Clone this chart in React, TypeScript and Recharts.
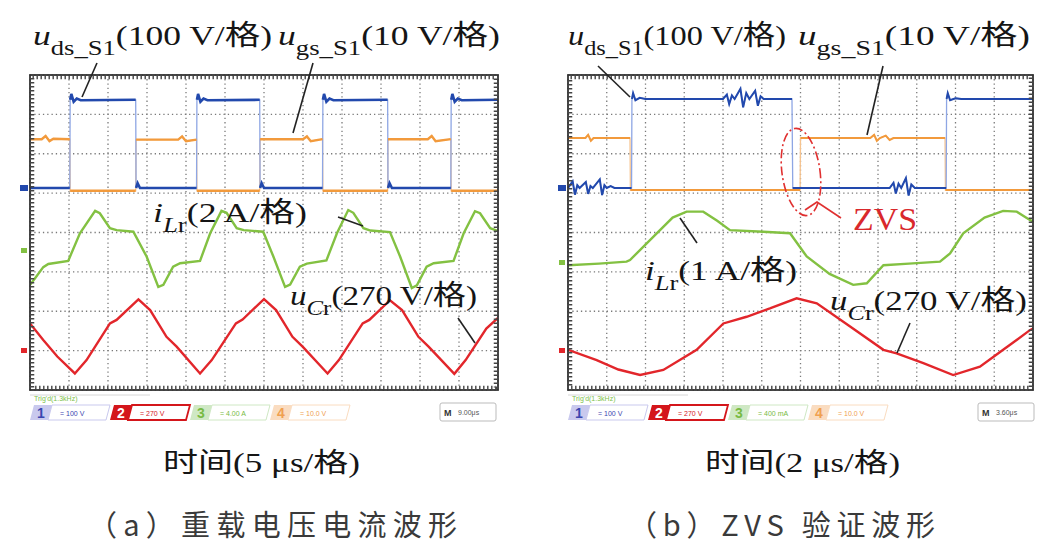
import { LineChart, Line, XAxis, YAxis, ReferenceLine } from 'recharts';

type Pt = [number, number];

// scope screen: 12 x 8 divisions, 10 units per division
const X_TICKS = [0, 10, 20, 30, 40, 50, 60, 70, 80, 90, 100, 110, 120];
const Y_TICKS = [0, 10, 20, 30, 40, 50, 60, 70, 80];

// (a) heavy load, 5 us/div
const leftDs: Pt[] = [
  [0, 51.3], [10.2, 51.3], [10.3, 73.7], [10.6, 75.2], [11.2, 73.2], [12, 74], [13, 73.6], [27.1, 73.7],
  [27.2, 51.3], [27.6, 52.5], [28.2, 51.3], [42.7, 51.3], [42.8, 73.7], [43.1, 75.2], [43.7, 73.2], [44.5, 74],
  [45.5, 73.6], [58.9, 73.7], [59.0, 51.3], [59.4, 52.5], [60, 51.3], [75.0, 51.3], [75.1, 73.7], [75.4, 75.2],
  [76, 73.2], [76.8, 74], [77.8, 73.6], [91.7, 73.7], [91.8, 51.3], [92.2, 52.5], [92.8, 51.3], [107.9, 51.3],
  [108.0, 73.7], [108.3, 75.2], [108.9, 73.2], [109.7, 74], [110.7, 73.6], [120, 73.7],
];
const leftGs: Pt[] = [
  [0, 63.7], [3, 63.7], [4, 64.5], [5, 63.2], [6, 63.8], [10.2, 63.7], [10.3, 50.6], [27.1, 50.6],
  [27.2, 63.6], [38, 63.6], [39, 64.4], [40, 63.2], [42.7, 63.6], [42.8, 50.6], [58.9, 50.6], [59.0, 63.7],
  [70, 63.7], [71, 64.4], [72, 63.2], [75.0, 63.7], [75.1, 50.6], [91.7, 50.6], [91.8, 63.7], [102, 63.7],
  [103, 64.5], [104, 63.2], [107.9, 63.7], [108.0, 50.6], [120, 50.6],
];
const leftIlr: Pt[] = [
  [0, 26.7], [1.3, 28.4], [3.4, 31.2], [4.7, 32.0], [9.8, 32.8], [12.8, 39.8], [16.7, 45.5], [17.9, 44.9],
  [20.5, 41.1], [22.2, 40.6], [26.5, 40.2], [29.9, 33.9], [32.9, 26.2], [34.2, 26.7], [36.7, 31.3], [38.5, 32.2],
  [43.6, 32.8], [46.2, 39.8], [49.1, 45.5], [50.4, 45.0], [53.0, 41.1], [54.8, 40.6], [59.8, 40.2], [62.4, 33.9],
  [65.4, 26.2], [66.7, 26.8], [69.2, 31.3], [71.0, 32.1], [76.0, 32.9], [78.7, 39.8], [81.6, 45.7], [82.9, 45.0],
  [85.5, 41.1], [87.3, 40.5], [92.3, 40.1], [94.9, 33.9], [97.9, 25.9], [99.2, 26.6], [101.7, 31.3], [103.5, 32.2],
  [108.6, 32.8], [111.2, 39.8], [114.1, 45.4], [115.4, 44.9], [118.0, 41.1], [120, 40.4],
];
const leftUcr: Pt[] = [
  [0, 16.9], [3.4, 12.7], [7, 8.5], [11.5, 4.2], [14.5, 7.6], [20.5, 16.9], [22.2, 17.8], [27.8, 23.0],
  [30.8, 20.3], [35.0, 13.5], [37.6, 11.0], [43.6, 4.2], [46.6, 7.6], [52.8, 16.9], [54.5, 17.9], [60.0, 23.1],
  [63.1, 20.3], [67.3, 13.5], [69.9, 11.0], [76.3, 4.2], [79.2, 7.6], [85.3, 16.9], [87.0, 17.8], [92.3, 22.8],
  [95.4, 20.3], [99.6, 13.5], [102.2, 11.0], [108.8, 4.1], [111.7, 7.6], [117.0, 15.6], [120, 18.3],
];

// (b) ZVS check, 2 us/div
const rightDs: Pt[] = [
  [0, 51.3], [1.2, 53], [1.8, 49.6], [2.4, 52], [3, 51.3], [4.6, 52.8], [5.2, 49.8], [5.8, 51.8], [6.4, 51.3],
  [8.2, 53.5], [8.8, 49.5], [9.4, 52], [10, 51.3], [11, 51.8], [12, 51.3], [16.4, 51.3], [16.5, 73.9],
  [16.8, 75.4], [17.4, 73.6], [18.5, 74.2], [20, 73.9], [40, 73.9], [41, 75], [41.6, 72.6], [42.3, 74.8],
  [43, 73.9], [44.5, 76.5], [45.2, 71.8], [46, 75.4], [46.8, 73.9], [48.3, 76], [49, 72.2], [49.7, 74.6],
  [50.5, 73.9], [57.8, 73.9], [58.0, 51.3], [83, 51.3], [84, 52.6], [84.6, 49.9], [85.3, 52.4], [86, 51.3],
  [87.2, 53.8], [87.9, 49.4], [88.6, 52.2], [89.5, 51.3], [97.6, 51.3], [97.7, 73.9], [98, 75.4], [98.6, 73.6],
  [100, 74.1], [101.5, 73.9], [120, 73.9],
];
const rightGs: Pt[] = [
  [0, 64], [4.5, 64], [5.2, 64.8], [5.9, 63.3], [6.6, 64], [16.0, 64], [16.1, 50.8], [59.9, 50.8],
  [60.0, 64], [78, 64], [79, 64.8], [79.7, 63.3], [80.5, 64], [82, 64.6], [83, 63.5], [84, 64],
  [97.3, 64], [97.4, 50.8], [120, 50.8],
];
const rightIlr: Pt[] = [
  [0, 31.7], [8, 32.1], [15.1, 32.6], [16.0, 33.0], [22.9, 39.8], [27, 43.8], [30.6, 45.3], [34.9, 45.3],
  [38.5, 43], [41.8, 40.6], [50.4, 40.2], [57.3, 39.8], [61.6, 33.9], [67.5, 29.5], [73.6, 26.7], [77.1, 27.1],
  [81.4, 31.7], [88, 32.1], [96.0, 32.6], [98.6, 34.7], [102.0, 39.8], [107.5, 43.8], [112.3, 45.5],
  [115.8, 45.3], [119.2, 43.2], [120, 42.8],
];
const rightUcr: Pt[] = [
  [0, 10.2], [7.4, 7.6], [13, 5.2], [18.6, 3.8], [24.6, 5.1], [33.2, 10.2], [40.1, 16.9], [46.1, 18.6],
  [52.1, 20.7], [59.0, 23.3], [64.2, 22.0], [72.8, 16.1], [81.4, 10.2], [84.8, 9.3], [91.7, 6.8], [99.4, 3.8],
  [106.3, 5.9], [112.3, 10.2], [119.2, 15.2], [120, 15.6],
];

const BLUE = '#2249ad';
const BLUE_EDGE = '#8ea6e4';
const ORANGE = '#f29a3c';
const ORANGE_EDGE = '#f6c38e';
const GREEN = '#83c142';
const RED = '#e2262b';

const SERIF = "'Liberation Serif', 'Noto Sans CJK SC', serif";
const CJK = "'Noto Sans CJK SC', 'Liberation Serif', sans-serif";

const toRows = (pts: Pt[]) => pts.map(([x, y]) => ({ x, y }));

// same trace with the fast switching edges removed (they show up thin and pale on the scope)
const flatRows = (pts: Pt[]) => {
  const rows: { x: number; y: number | null }[] = [];
  pts.forEach(([x, y], i) => {
    rows.push({ x, y });
    const next = pts[i + 1];
    if (next && next[0] - x < 0.3 && Math.abs(next[1] - y) > 5) rows.push({ x: (x + next[0]) / 2, y: null });
  });
  return rows;
};

interface Trace {
  name: string;
  pts: Pt[];
  color: string;
  width: number;
  edge?: string;
}

function ScopePanel({ traces, left, ml, mr }: { traces: Trace[]; left: number; ml: number; mr: number }) {
  return (
    <div style={{ position: 'absolute', left, top: 0 }}>
      <LineChart width={531} height={551} margin={{ top: 75, right: mr, bottom: 161, left: ml }}>
        <XAxis type="number" dataKey="x" domain={[0, 120]} ticks={X_TICKS} height={0} tick={false} axisLine={false} tickLine={false} allowDataOverflow />
        <YAxis type="number" dataKey="y" domain={[0, 80]} ticks={Y_TICKS} width={0} tick={false} axisLine={false} tickLine={false} allowDataOverflow />
        {X_TICKS.map((v) => (
          <ReferenceLine key={`gx${v}`} x={v} stroke="#7a7a7a" strokeWidth={1.3} strokeDasharray="1.3 3" />
        ))}
        {Y_TICKS.map((v) => (
          <ReferenceLine key={`gy${v}`} y={v} stroke="#7a7a7a" strokeWidth={1.3} strokeDasharray="1.3 3" />
        ))}
        {traces.map((t) =>
          t.edge ? (
            <Line
              key={`${t.name}-edge`}
              data={toRows(t.pts)}
              dataKey="y"
              type="linear"
              stroke={t.edge}
              strokeWidth={1.3}
              dot={false}
              isAnimationActive={false}
            />
          ) : null
        )}
        {traces.map((t) => (
          <Line
            key={t.name}
            data={t.edge ? flatRows(t.pts) : toRows(t.pts)}
            dataKey="y"
            type="linear"
            stroke={t.color}
            strokeWidth={t.width}
            dot={false}
            connectNulls={false}
            isAnimationActive={false}
          />
        ))}
      </LineChart>
    </div>
  );
}

function Label({ x, y, main, sub, subItalic, rest, width }: { x: number; y: number; main: string; sub: string; subItalic?: boolean; rest: string; width: number }) {
  const first = subItalic ? sub.slice(0, 1) : sub;
  const second = subItalic ? sub.slice(1) : '';
  return (
    <text x={x} y={y} fontFamily={SERIF} fontSize={28} fill="#151515" textLength={width} lengthAdjust="spacingAndGlyphs">
      <tspan fontStyle="italic">{main}</tspan>
      <tspan fontSize={21} dy={10} fontStyle={subItalic ? 'italic' : 'normal'}>{first}</tspan>
      {second && <tspan fontSize={21}>{second}</tspan>}
      <tspan dy={-10}>{rest}</tspan>
    </text>
  );
}

function Frame({ x, y, w, h }: { x: number; y: number; w: number; h: number }) {
  return (
    <g>
      <rect x={x} y={y} width={w} height={h} fill="none" stroke="#333" strokeWidth={1.8} />
      <rect x={x + 2.5} y={y + 2.5} width={w - 5} height={h - 5} fill="none" stroke="#444" strokeWidth={3.5} strokeDasharray="1.4 2.6" />
    </g>
  );
}

function ChannelBar({ x0, vals, time }: { x0: number; vals: string[]; time: string }) {
  const y = 405;
  const h = 15;
  const slots = [
    { fill: '#c9c9ee', txt: '#3a46b0', num: '1', solid: false },
    { fill: '#d4161b', txt: '#d4161b', num: '2', solid: true },
    { fill: '#cfe8c4', txt: '#78bb44', num: '3', solid: false },
    { fill: '#fadcc0', txt: '#f0a050', num: '4', solid: false },
  ];
  return (
    <g fontFamily="'Liberation Sans', sans-serif">
      <text x={x0 + 4} y={401} fontSize={7} fill="#7cbf4c">Trig'd(1.3kHz)</text>
      <line x1={x0} x2={x0 + 120} y1={395} y2={395} stroke="#ccc" strokeWidth={0.8} />
      {slots.map((s, i) => {
        const sx = x0 + i * 80;
        return (
          <g key={s.num}>
            <polygon points={`${sx + 4},${y} ${sx + 22},${y} ${sx + 18},${y + h} ${sx},${y + h}`} fill={s.fill} />
            <polygon
              points={`${sx + 22},${y} ${sx + 80},${y} ${sx + 76},${y + h} ${sx + 18},${y + h}`}
              fill="#fff"
              stroke={s.fill}
              strokeWidth={s.solid ? 1.8 : 1}
            />
            <text x={sx + 7} y={y + 13} fontSize={14} fontWeight="bold" fill={s.solid ? '#fff' : s.txt}>{s.num}</text>
            <text x={sx + 30} y={y + 11} fontSize={7} fill={s.txt}>{`=  ${vals[i]}`}</text>
          </g>
        );
      })}
      <rect x={x0 + 410} y={403} width={56} height={18} fill="#fff" stroke="#bbb" strokeWidth={1} rx={2} />
      <text x={x0 + 414} y={416} fontSize={9} fontWeight="bold" fill="#333">M</text>
      <text x={x0 + 428} y={415} fontSize={7} fill="#555">{time}</text>
    </g>
  );
}

function Overlay() {
  return (
    <svg width={1062} height={551} style={{ position: 'absolute', left: 0, top: 0, pointerEvents: 'none' }}>
      <Frame x={30} y={75} w={468} h={315} />
      <Frame x={568} y={75} w={465} h={315} />

      {/* channel ground markers */}
      <rect x={20} y={185} width={8} height={6} fill={BLUE} />
      <rect x={21} y={248} width={6} height={5} fill={GREEN} />
      <rect x={21} y={348} width={6} height={5} fill={RED} />
      <rect x={558} y={185} width={8} height={6} fill={BLUE} />
      <rect x={559} y={260} width={6} height={5} fill={GREEN} />
      <rect x={559} y={348} width={6} height={5} fill={RED} />

      {/* (a) annotations */}
      <Label x={33} y={45} main="u" sub="ds_S1" rest="(100 V/格)" width={239} />
      <Label x={278} y={45} main="u" sub="gs_S1" rest="(10 V/格)" width={222} />
      <line x1={97} y1={63} x2={82} y2={97} stroke="#222" strokeWidth={1.6} />
      <line x1={313} y1={63} x2={293} y2={133} stroke="#222" strokeWidth={1.6} />
      <Label x={153} y={222} main="i" sub="Lr" subItalic rest="(2 A/格)" width={154} />
      <line x1={338} y1={217} x2={363} y2={226} stroke="#222" strokeWidth={1.6} />
      <Label x={290} y={305} main="u" sub="Cr" subItalic rest="(270 V/格)" width={187} />
      <line x1={458} y1={318} x2={475} y2={343} stroke="#222" strokeWidth={1.6} />

      {/* (b) annotations */}
      <Label x={568} y={45} main="u" sub="ds_S1" rest="(100 V/格)" width={218} />
      <Label x={798} y={45} main="u" sub="gs_S1" rest="(10 V/格)" width={232} />
      <line x1={598} y1={66} x2={630} y2={97} stroke="#222" strokeWidth={1.6} />
      <line x1={883} y1={66} x2={867} y2={135} stroke="#222" strokeWidth={1.6} />
      <Label x={645} y={280} main="i" sub="Lr" subItalic rest="(1 A/格)" width={152} />
      <line x1={680} y1={218} x2={697} y2={243} stroke="#222" strokeWidth={1.6} />
      <Label x={830} y={310} main="u" sub="Cr" subItalic rest="(270 V/格)" width={197} />
      <line x1={910} y1={323} x2={897} y2={353} stroke="#222" strokeWidth={1.6} />

      <ellipse cx={801} cy={172} rx={19} ry={44} transform="rotate(-8 801 172)" fill="none" stroke="#e03030" strokeWidth={1.6} strokeDasharray="9 3 2 3" />
      <polyline points="805,210 817,202 841,218" fill="none" stroke="#e03030" strokeWidth={1.6} />
      <text x={853} y={230} fontFamily={SERIF} fontSize={32} fill="#d9282c" textLength={64} lengthAdjust="spacingAndGlyphs">ZVS</text>

      <ChannelBar x0={30} vals={['100 V', '270 V', '4.00 A', '10.0 V']} time="9.00μs" />
      <ChannelBar x0={568} vals={['100 V', '270 V', '400 mA', '10.0 V']} time="3.60μs" />

      {/* axis captions */}
      <text x={163} y={472} fontFamily={SERIF} fontSize={27} fill="#151515" textLength={197} lengthAdjust="spacingAndGlyphs">时间(5 μs/格)</text>
      <text x={705} y={472} fontFamily={SERIF} fontSize={27} fill="#151515" textLength={195} lengthAdjust="spacingAndGlyphs">时间(2 μs/格)</text>
      <text x={88} y={536} fontFamily={CJK} fontSize={29} fill="#3a3a3a" textLength={369} lengthAdjust="spacing">（a）重载电压电流波形</text>
      <text x={628} y={536} fontFamily={CJK} fontSize={29} fill="#3a3a3a" textLength={307} lengthAdjust="spacing">（b）ZVS 验证波形</text>
    </svg>
  );
}

const leftTraces: Trace[] = [
  { name: 'gs', pts: leftGs, color: ORANGE, width: 2.4, edge: ORANGE_EDGE },
  { name: 'ds', pts: leftDs, color: BLUE, width: 2.6, edge: BLUE_EDGE },
  { name: 'ilr', pts: leftIlr, color: GREEN, width: 2.4 },
  { name: 'ucr', pts: leftUcr, color: RED, width: 2.4 },
];
const rightTraces: Trace[] = [
  { name: 'gs', pts: rightGs, color: ORANGE, width: 2, edge: ORANGE_EDGE },
  { name: 'ds', pts: rightDs, color: BLUE, width: 2, edge: BLUE_EDGE },
  { name: 'ilr', pts: rightIlr, color: GREEN, width: 2.4 },
  { name: 'ucr', pts: rightUcr, color: RED, width: 2.4 },
];

export default function App() {
  return (
    <div style={{ position: 'absolute', left: 0, top: 0, width: 1062, height: 551, background: '#fff', overflow: 'hidden' }}>
      <ScopePanel traces={leftTraces} left={0} ml={30} mr={33} />
      <ScopePanel traces={rightTraces} left={531} ml={37} mr={29} />
      <Overlay />
    </div>
  );
}
